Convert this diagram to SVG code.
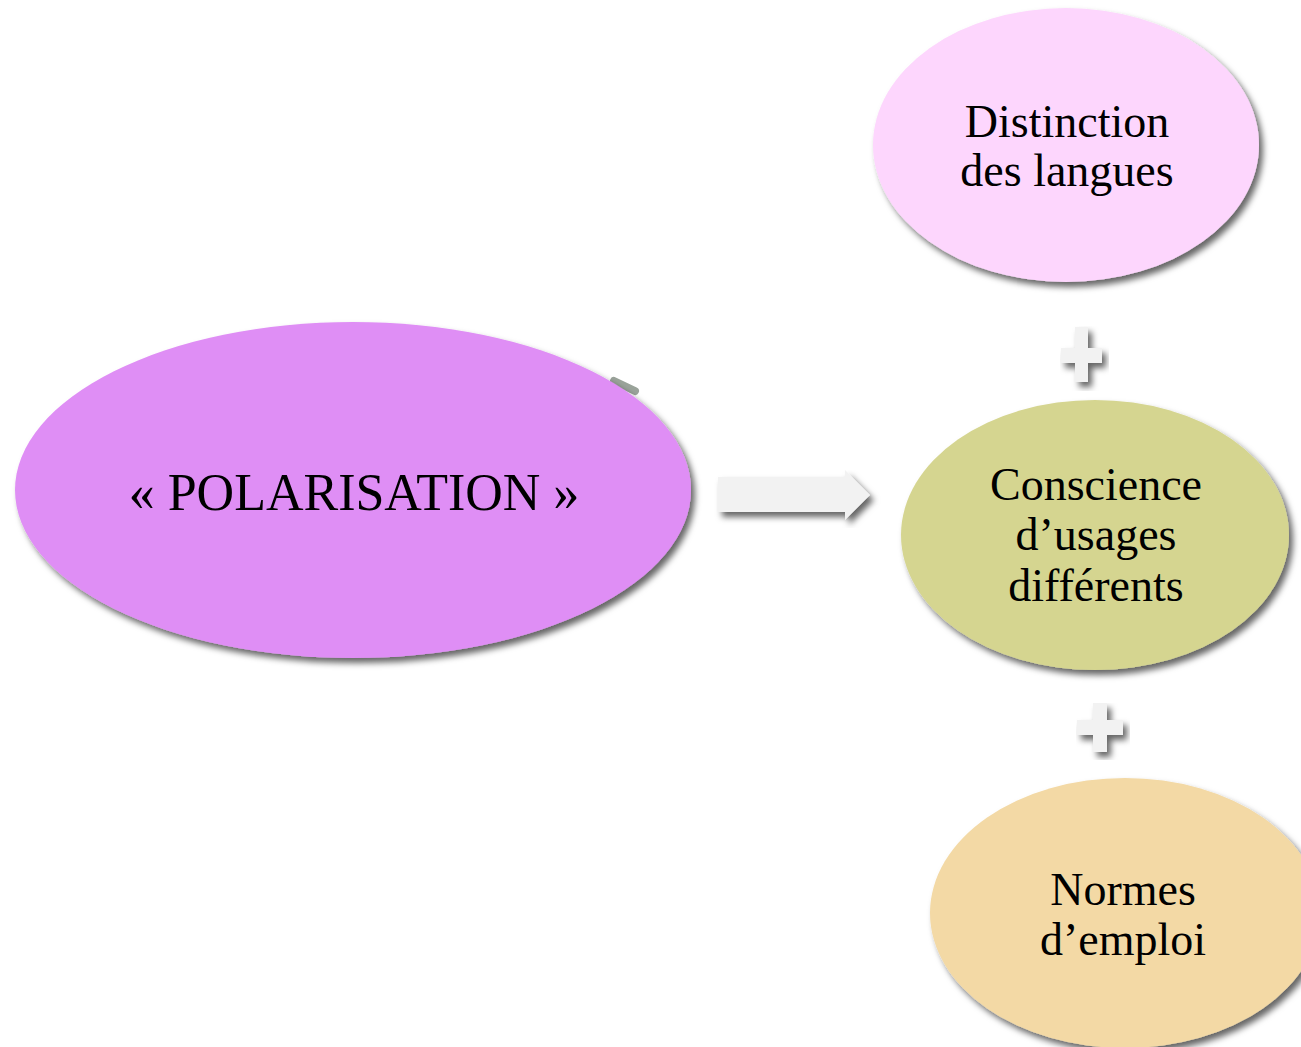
<svg xmlns="http://www.w3.org/2000/svg" width="1301" height="1047" viewBox="0 0 1301 1047">
<defs>
<filter id="sh" x="-10%" y="-10%" width="125%" height="125%">
<feGaussianBlur in="SourceAlpha" stdDeviation="3"/>
<feOffset dx="4" dy="5" result="b"/>
<feFlood flood-color="#000" flood-opacity="0.6"/>
<feComposite in2="b" operator="in"/>
<feMerge><feMergeNode/><feMergeNode in="SourceGraphic"/></feMerge>
</filter>
<style>
.t{font-family:"Liberation Serif","DejaVu Serif",serif;fill:#000;text-anchor:middle}
.s{font-size:46px}
.c{fill:#f2f2f2;filter:url(#sh)}
</style>
</defs>
<rect width="1301" height="1047" fill="#fff"/>
<g id="connectors">
<line x1="614" y1="381" x2="635" y2="391" stroke="#9aa39a" stroke-width="8" stroke-linecap="round"/>
<polygon class="c" points="718,477 845,477 845,470 870,495 845,520 845,512 718,512"/>
<polygon class="c" points="1075,327 1088,327 1088,348 1102,348 1102,363 1088,363 1088,382 1075,382 1075,363 1061,363 1061,348 1075,348"/>
<polygon class="c" points="1093,703 1107,703 1107,720 1123,720 1123,735 1107,735 1107,752 1093,752 1093,735 1077,735 1077,720 1093,720"/>
</g>
<g id="polarisation">
<ellipse cx="353" cy="490" rx="338" ry="168" fill="#df8ef5" filter="url(#sh)"/>
<text class="t" x="354" y="510" font-size="52">« POLARISATION »</text>
</g>
<g id="distinction">
<ellipse cx="1066" cy="145" rx="193" ry="137" fill="#fdd6fd" filter="url(#sh)"/>
<text class="t s" x="1067" y="137">Distinction</text>
<text class="t s" x="1067" y="186">des langues</text>
</g>
<g id="conscience">
<ellipse cx="1095" cy="535" rx="194" ry="135" fill="#d5d590" filter="url(#sh)"/>
<text class="t s" x="1096" y="500">Conscience</text>
<text class="t s" x="1096" y="550">d’usages</text>
<text class="t s" x="1096" y="601">différents</text>
</g>
<g id="normes">
<ellipse cx="1125" cy="913" rx="195" ry="135" fill="#f3d9a5" filter="url(#sh)"/>
<text class="t s" x="1123" y="905">Normes</text>
<text class="t s" x="1123" y="955">d’emploi</text>
</g>
</svg>
